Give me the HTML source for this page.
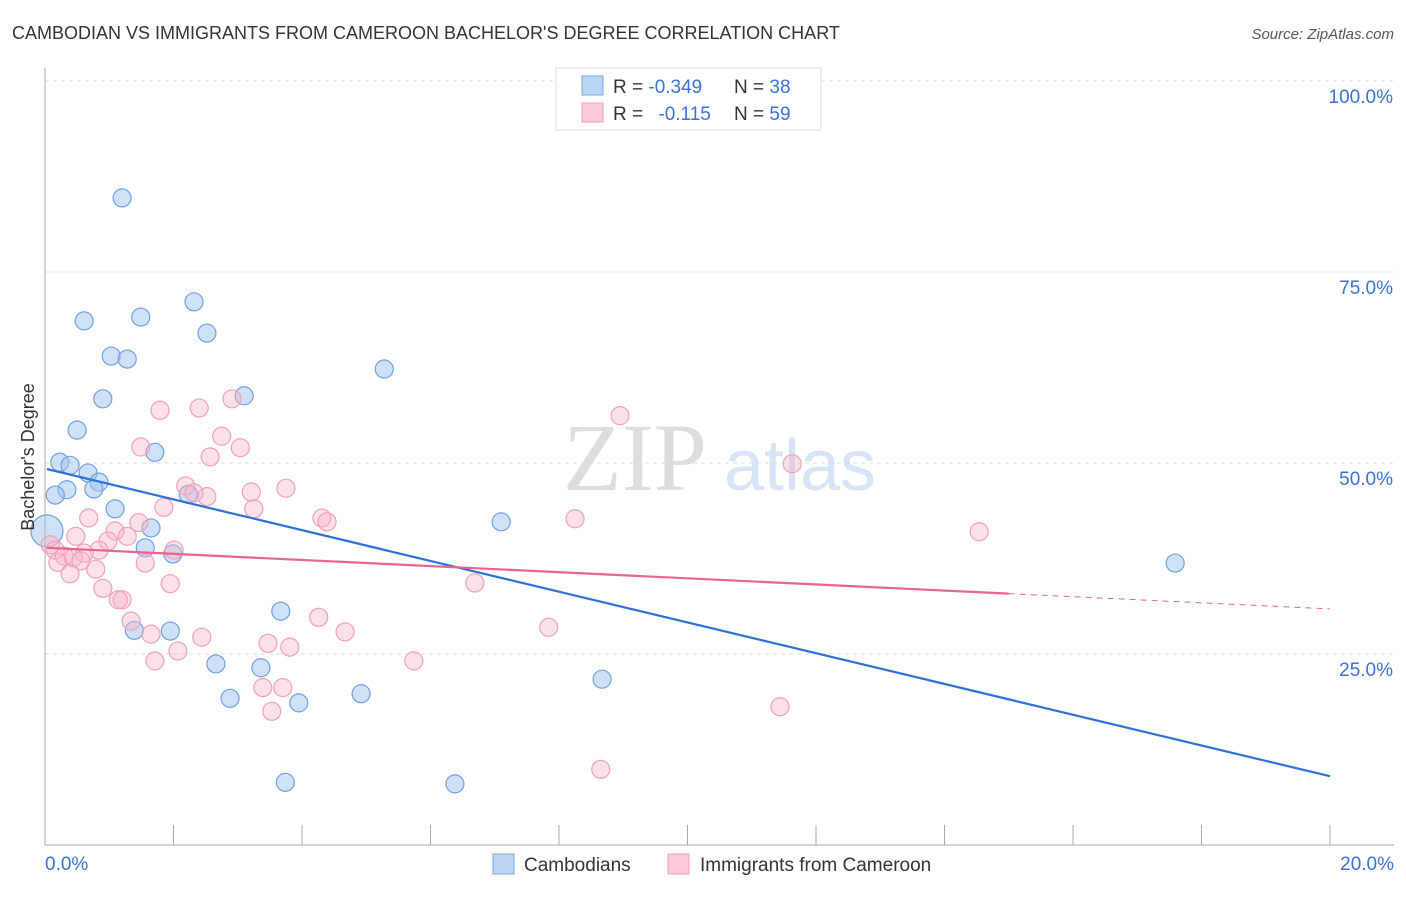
<!DOCTYPE html>
<html><head><meta charset="utf-8"><style>
body{margin:0;background:#fff;font-family:"Liberation Sans",sans-serif}
svg text{font-family:"Liberation Sans",sans-serif}
</style></head><body>
<svg width="1406" height="892" id="chart">
<text x="12" y="39" font-size="18" fill="#333">CAMBODIAN VS IMMIGRANTS FROM CAMEROON BACHELOR'S DEGREE CORRELATION CHART</text>
<text x="1394" y="39" font-size="15" fill="#555" font-style="italic" text-anchor="end">Source: ZipAtlas.com</text>
<g>
<text x="635" y="490" font-size="96" fill="#ddd" text-anchor="middle" font-family="Liberation Serif" style="font-family:'Liberation Serif',serif">ZIP</text>
<text x="800" y="490" font-size="72" fill="#d6e4f5" text-anchor="middle">atlas</text>
</g>
<g id="grid"></g>
<g id="axes"></g>
<g id="pts"></g>
<g id="trends"></g>
<text transform="translate(34,457) rotate(-90)" font-size="18" fill="#333" text-anchor="middle">Bachelor's Degree</text>
<g>
<rect x="556" y="68" width="265" height="62" fill="#fff" stroke="#ddd"/>
<rect x="582" y="76" width="21" height="19" fill="#bcd5f5" stroke="#7aa6e0"/>
<rect x="582" y="103" width="21" height="19" fill="#fbcbd8" stroke="#f0a0b8"/>
<text x="613" y="93" font-size="19" fill="#333">R = <tspan fill="#3a72d6">-0.349</tspan></text>
<text x="734" y="93" font-size="19" fill="#333">N = <tspan fill="#3a72d6">38</tspan></text>
<text x="613" y="120" font-size="19" fill="#333">R = <tspan fill="#3a72d6" dx="10">-0.115</tspan></text>
<text x="734" y="120" font-size="19" fill="#333">N = <tspan fill="#3a72d6">59</tspan></text>
</g>
<g>
<rect x="493" y="854" width="21" height="20" fill="#bcd5f5" stroke="#7aa6e0"/>
<text x="524" y="871" font-size="19" fill="#333">Cambodians</text>
<rect x="668" y="854" width="21" height="20" fill="#fbcbd8" stroke="#f0a0b8"/>
<text x="700" y="871" font-size="19" fill="#333">Immigrants from Cameroon</text>
</g>
</svg>
<script>
const blueX=[1.20,2.32,0.61,1.49,2.52,1.03,1.28,5.28,3.10,0.90,0.50,1.71,0.23,0.39,0.67,0.84,0.34,0.76,0.16,2.23,1.09,7.10,1.65,0.03,1.56,1.99,17.59,3.67,1.39,1.95,2.66,3.36,8.67,4.92,2.88,3.95,3.74,6.38];
const blueY=[84.7,71.1,68.6,69.1,67.0,64.0,63.6,62.3,58.8,58.4,54.3,51.4,50.1,49.7,48.7,47.5,46.5,46.6,45.8,45.9,44.0,42.3,41.5,41.1,38.9,38.1,36.9,30.6,28.1,28.0,23.7,23.2,21.7,19.8,19.2,18.6,8.2,8.0];
const pinkX=[8.95,1.79,2.40,2.91,2.75,1.49,3.04,2.57,11.63,2.19,3.75,2.32,2.52,3.21,1.85,3.25,0.68,4.31,4.39,8.25,1.46,14.54,1.09,0.48,1.28,0.98,0.08,0.16,0.84,0.61,2.01,0.30,0.44,0.20,0.56,1.56,0.79,0.39,6.69,1.95,0.90,1.20,1.14,1.34,4.26,7.84,1.65,4.67,2.44,3.47,3.81,2.07,1.71,5.74,3.39,3.70,11.44,3.53,8.65];
const pinkY=[56.2,56.9,57.2,58.4,53.5,52.1,52.0,50.8,49.9,47.0,46.7,46.1,45.6,46.2,44.2,44.0,42.8,42.8,42.3,42.7,42.2,41.0,41.1,40.4,40.4,39.8,39.3,38.6,38.6,38.2,38.6,37.8,37.6,37.0,37.2,36.9,36.1,35.5,34.3,34.2,33.6,32.1,32.1,29.3,29.8,28.5,27.6,27.9,27.2,26.4,25.9,25.4,24.1,24.1,20.6,20.6,18.1,17.5,9.9];
const yTicks=[25,50,75,100];
const yTickLabels=["25.0%","50.0%","75.0%","100.0%"];
const blueTrend=[49.2,9.0];
const pinkTrend=[38.9,30.9];
const pinkSolidEnd=15;
const NS="http://www.w3.org/2000/svg";
const X=v=>45+v/20*1285, Y=v=>845-v/100*764;
function mk(t,a,p){const e=document.createElementNS(NS,t);for(const k in a)e.setAttribute(k,a[k]);p.appendChild(e);return e;}
const grid=document.getElementById('grid'),axes=document.getElementById('axes');
yTicks.forEach((t,i)=>{
 const l=mk('line',{x1:45,x2:1394,y1:Y(t),y2:Y(t),stroke:'#ddd','stroke-dasharray':'4,4'},grid);
 
 
 const tx=mk('text',{x:1393,y:Y(t)+22,'font-size':19,fill:'#3a72d6','text-anchor':'end'},axes);
 tx.textContent=yTickLabels[i];
 
 
});
const ya=mk('line',{x1:45,x2:45,y1:68,y2:845,stroke:'#aaa'},axes);


const xa=mk('line',{x1:45,x2:1394,y1:845,y2:845,stroke:'#aaa'},axes);


for(let v=0;v<=20;v+=2){
 const t=mk('line',{x1:X(v),x2:X(v),y1:825,y2:845,stroke:'#aaa'},axes);
 
 
}
[[0,"0.0%",'start',45],[20,"20.0%",'end',1394]].forEach(d=>{
 const t=mk('text',{x:d[3],y:870,'font-size':19,fill:'#3a72d6','text-anchor':d[2]},axes);
 t.textContent=d[1];
 
 
});
const pts=document.getElementById('pts');
blueX.forEach((x,i)=>{
 const c=mk('circle',{cx:X(x),cy:Y(blueY[i]),r:i===23?16:9,fill:'rgba(160,195,240,0.5)',stroke:'#6fa0e0','stroke-width':1.2},pts);
 
 
});
pinkX.forEach((x,i)=>{
 const c=mk('circle',{cx:X(x),cy:Y(pinkY[i]),r:9,fill:'rgba(248,180,200,0.4)',stroke:'#f0a0b8','stroke-width':1.2},pts);
 
 
});
const tr=document.getElementById('trends');
const bl=mk('line',{x1:X(0.03),y1:Y(blueTrend[0]),x2:X(20),y2:Y(blueTrend[1]),stroke:'#2f6fd8','stroke-width':2.2},tr);


const pm=pinkTrend[0]+(pinkTrend[1]-pinkTrend[0])*pinkSolidEnd/20;
const pl=mk('line',{x1:X(0.03),y1:Y(pinkTrend[0]),x2:X(pinkSolidEnd),y2:Y(pm),stroke:'#e8638e','stroke-width':2.2},tr);


const pd=mk('line',{x1:X(pinkSolidEnd),y1:Y(pm),x2:X(20),y2:Y(pinkTrend[1]),stroke:'#e8638e','stroke-width':1,'stroke-dasharray':'6,5'},tr);


</script>
</body></html>
